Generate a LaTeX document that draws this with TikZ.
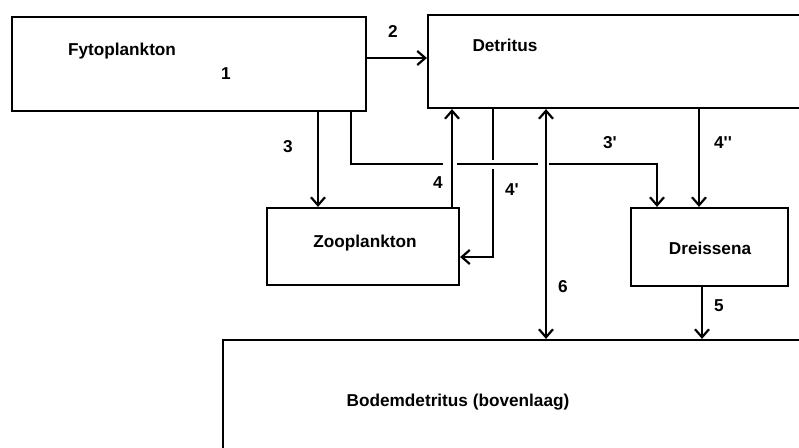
\documentclass[tikz,border=0pt]{standalone}
\usepackage{fontspec}
\setmainfont{Liberation Sans}
\usetikzlibrary{arrows.meta}
\tikzset{
  box/.style={draw, line width=2.2pt, rectangle, inner sep=0pt},
  lbl/.style={font=\fontsize{17.2}{19}\selectfont\bfseries, inner sep=0pt},
  flow/.style={line width=2.2pt, -{Straight Barb[length=8pt,width=14pt]}},
  flowboth/.style={line width=2.2pt, {Straight Barb[length=8pt,width=14pt]}-{Straight Barb[length=8pt,width=14pt]}},
  wire/.style={line width=2.2pt}
}
\begin{document}
\begin{tikzpicture}[x=1pt, y=-1pt]
\useasboundingbox (0,0) rectangle (799,447);
\clip (0,0) rectangle (799,447);

% compartments
\node[box, minimum width=354pt, minimum height=94pt] (fyto) at (189,64) {};
\node[box, minimum width=382pt, minimum height=93pt] (detr) at (619,61.5) {};
\node[box, minimum width=192pt, minimum height=77pt] (zoo) at (363,246.5) {};
\node[box, minimum width=157pt, minimum height=78pt] (dreis) at (709.5,247) {};
\node[box, minimum width=597pt, minimum height=130pt] (bodem) at (521.5,405) {};

% compartment names
\node[lbl] (tfyto) at (122,51) {Fytoplankton};
\node[lbl] (n1) at (226,74) {1};
\node[lbl] (tdetr) at (505,45) {Detritus};
\node[lbl] (tzoo) at (365,243) {Zooplankton};
\node[lbl] (tdreis) at (710,248) {Dreissena};
\node[lbl] (tbodem) at (458,402) {Bodemdetritus (bovenlaag)};

% flow numbers
\node[lbl] (n2) at (393,31) {2};
\node[lbl] (n3) at (288,147) {3};
\node[lbl] (n4) at (438,183) {4};
\node[lbl] (n4a) at (512,190) {4\textquotesingle};
\node[lbl] (n6) at (563,287) {6};
\node[lbl] (n3a) at (610,143) {3\textquotesingle};
\node[lbl] (n4b) at (723,143) {4\textquotesingle\textquotesingle};
\node[lbl] (n5) at (719,306) {5};

% crossing points
\coordinate (c3a) at (351,164);
\coordinate (c3b) at (657,164);
\coordinate (c4a) at (493,257);

% 2: phytoplankton -> detritus
\draw[flow] (fyto.east |- 0,58) -- (detr.west |- 0,58);
% 3: phytoplankton -> zooplankton
\draw[flow] (fyto.south -| 318,0) -- (zoo.north -| 318,0);
% 3': phytoplankton -> dreissena, with gaps where it passes the verticals
\draw[wire] (fyto.south -| c3a) -- (c3a) -- (443,164);
\draw[wire] (457,164) -- (538,164);
\draw[flow] (549,164) -- (c3b) -- (dreis.north -| c3b);
% 4: zooplankton -> detritus
\draw[flow] (zoo.north -| 452,0) -- (detr.south -| 452,0);
% 4': detritus -> zooplankton, broken over line 3'
\draw[wire] (detr.south -| c4a) -- (493,160);
\draw[flow] (493,169) -- (c4a) -- (zoo.east |- c4a);
% 6: detritus <-> bottom detritus
\draw[flowboth] (detr.south -| 546,0) -- (bodem.north -| 546,0);
% 4'': detritus -> dreissena
\draw[flow] (detr.south -| 699,0) -- (dreis.north -| 699,0);
% 5: dreissena -> bottom detritus
\draw[flow] (dreis.south -| 702,0) -- (bodem.north -| 702,0);
\end{tikzpicture}
\end{document}
